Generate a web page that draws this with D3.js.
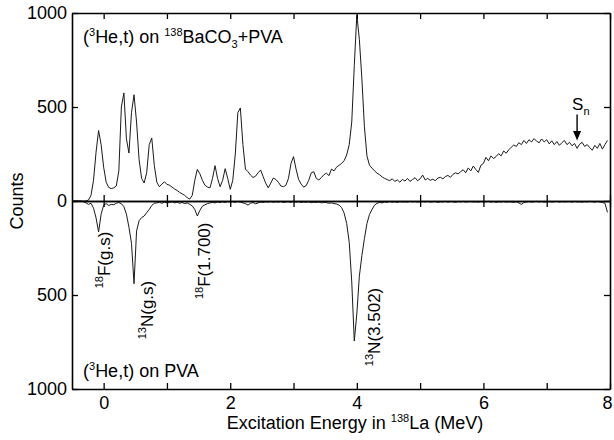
<!DOCTYPE html>
<html lang="en">
<head>
    <meta charset="UTF-8">
    <title>138La (3He,t) spectra</title>
    <script src="https://d3js.org/d3.v7.min.js"></script>
    <style>
        body {
            margin: 0;
            background-color: #fff;
        }
        svg {
            display: block;
            font-family: 'Liberation Sans', Arial, sans-serif;
        }
        .axis text {
            font-size: 18px;
            fill: #000;
        }
        .axis path, .axis line {
            stroke: #000;
        }
        .spectrum {
            fill: none;
            stroke: #1a1a1a;
            stroke-width: 1;
        }
        .label {
            font-size: 18px;
            fill: #000;
        }
        .peak-label {
            font-size: 17px;
            fill: #000;
        }
    </style>
</head>
<body>
    <svg width="614" height="440"></svg>

    <script>
        // histogram bins (MeV)
        const binStart = -0.48;
        const binWidth = 0.04;

        // (3He,t) on 138BaCO3+PVA, counts per bin
        const bacoCounts = [
            0, 0, 0, 0, 0, 0, 5, 30, 110, 260,
            375, 300, 180, 100, 72, 66, 70, 80, 160, 500,
            575, 330, 255, 470, 565, 420, 220, 120, 96, 150,
            300, 335, 190, 100, 76, 90, 102, 88, 84, 74,
            64, 56, 46, 38, 30, 18, 10, 30, 110, 168,
            145, 110, 84, 74, 70, 120, 188, 120, 76, 110,
            172, 120, 62, 110, 250, 470, 495, 300, 170, 156,
            138, 125, 132, 150, 165, 130, 95, 70, 95, 122,
            115, 100, 80, 76, 84, 120, 200, 236, 170, 115,
            90, 74, 82, 110, 150, 156, 120, 112, 125, 140,
            148, 135, 170, 160, 180, 190, 200, 215, 245, 300,
            420, 720, 990, 860, 650, 395, 240, 190, 175, 160,
            148, 140, 128, 120, 114, 108, 118, 104, 112, 100,
            115, 106, 120, 104, 114, 124, 108, 118, 138, 112,
            120, 110, 116, 108, 122, 126, 118, 130, 136, 126,
            142, 150, 144, 156, 166, 150, 176, 160, 186, 168,
            152, 190, 200, 232, 214, 240, 226, 236, 252, 240,
            266, 254, 272, 286, 298, 290, 310, 300, 322, 306,
            326, 314, 332, 318, 310, 330, 314, 326, 304, 320,
            300, 316, 296, 310, 322, 300, 312, 294, 306, 280,
            302, 312, 290, 300, 284, 270, 296, 280, 306, 276,
            300, 322
        ];

        // (3He,t) on PVA, counts per bin (drawn downward)
        const pvaCounts = [
            0, 0, 0, 0, 4, 10, 18, 12, 38, 90,
            165, 70, 22, 14, 24, 18, 20, 12, 8, 14,
            30, 70, 140, 225, 440, 160, 105, 88, 80, 62,
            45, 24, 12, 10, 7, 12, 6, 10, 8, 4,
            10, 6, 12, 8, 14, 10, 18, 26, 45, 80,
            50, 28, 20, 14, 10, 8, 10, 5, 8, 4,
            8, 3, 6, 4, 7, 3, 6, 10, 14, 22,
            12, 8, 15, 10, 5, 8, 4, 6, 3, 7,
            4, 6, 3, 8, 5, 4, 7, 3, 6, 4,
            8, 5, 7, 4, 9, 6, 8, 5, 10, 7,
            9, 12, 10, 14, 16, 22, 35, 65, 120, 220,
            430, 745, 600, 400, 290, 200, 120, 72, 45, 22,
            12, 8, 10, 5, 7, 3, 6, 4, 8, 3,
            5, 4, 6, 2, 5, 3, 6, 4, 3, 5,
            2, 6, 4, 3, 7, 4, 5, 2, 6, 3,
            4, 7, 3, 5, 2, 6, 4, 3, 5, 4,
            6, 3, 5, 4, 2, 6, 3, 7, 4, 5,
            3, 6, 4, 5, 7, 4, 10, 18, 8, 5,
            3, 6, 4, 2, 5, 3, 6, 4, 3, 5,
            4, 2, 6, 3, 5, 4, 3, 6, 2, 5,
            4, 6, 3, 5, 2, 4, 6, 3, 5, 8,
            12, 60
        ];

        const xTicks = [0, 1, 2, 3, 4, 5, 6, 7, 8];
        const yTicks = [-1000, -500, 0, 500, 1000];

        // contaminant peaks in the PVA run
        const peakLabels = [
            {iso: "18", name: "F(g.s)"},
            {iso: "13", name: "N(g.s)"},
            {iso: "18", name: "F(1.700)"},
            {iso: "13", name: "N(3.502)"}
        ];
        const snEnergy = 7.48;

        const svg = d3.select("svg");
        const margin = {top: 13, right: 4, bottom: 51, left: 72};
        const width = +svg.attr("width");
        const height = +svg.attr("height");

        const x = d3.scaleLinear([-0.5, 8], [margin.left, width - margin.right]);
        const y = d3.scaleLinear([-1000, 1000], [height - margin.bottom, margin.top]);

        const energy = i => binStart + i * binWidth;

        // spectra
        const line = d3.line()
            .x(d => x(d[0]))
            .y(d => y(d[1]));

        svg.append("path")
            .attr("class", "spectrum")
            .attr("d", line(bacoCounts.map((c, i) => [energy(i), c])));

        svg.append("path")
            .attr("class", "spectrum")
            .attr("d", line(pvaCounts.map((c, i) => [energy(i), -c])));

        // frame axes, ticks pointing inward
        svg.append("g")
            .attr("class", "axis")
            .attr("transform", `translate(0,${y(-1000)})`)
            .call(d3.axisBottom(x).tickValues(xTicks).tickSizeInner(-6).tickSizeOuter(0).tickPadding(7)
                .tickFormat(d => d % 2 === 0 ? d : ""))
            .selectAll(".tick text")
            .attr("dx", d => d === 8 ? -3 : 0);

        svg.append("g")
            .attr("class", "axis")
            .attr("transform", `translate(0,${y(1000)})`)
            .call(d3.axisTop(x).tickValues(xTicks).tickSizeInner(-6).tickSizeOuter(0).tickFormat(""));

        svg.append("g")
            .attr("class", "axis")
            .attr("transform", `translate(${x(-0.5)},0)`)
            .call(d3.axisLeft(y).tickValues(yTicks).tickSizeInner(-6).tickSizeOuter(0).tickPadding(5)
                .tickFormat(d => Math.abs(d)));

        svg.append("g")
            .attr("class", "axis")
            .attr("transform", `translate(${x(8)},0)`)
            .call(d3.axisRight(y).tickValues(yTicks).tickSizeInner(-6).tickSizeOuter(0).tickFormat(""));

        // zero line with ticks on both sides
        svg.append("g")
            .attr("class", "axis")
            .attr("transform", `translate(0,${y(0)})`)
            .call(d3.axisBottom(x).tickValues(xTicks).tickSizeInner(6).tickSizeOuter(0).tickFormat(""));
        svg.append("g")
            .attr("class", "axis")
            .attr("transform", `translate(0,${y(0)})`)
            .call(d3.axisTop(x).tickValues(xTicks).tickSizeInner(6).tickSizeOuter(0).tickFormat(""));

        svg.selectAll(".axis path").attr("stroke-width", 1.6);
        svg.selectAll(".axis line").attr("stroke-width", 1.3);

        // text with super/subscripts: parts = [[text, "sup"|"sub"|""], ...]
        function richText(g, parts, size) {
            const small = Math.round(size * 0.62);
            let shift = 0;
            parts.forEach(([t, mode]) => {
                const target = mode === "sup" ? -size * 0.4 : mode === "sub" ? size * 0.28 : 0;
                g.append("tspan")
                    .attr("dy", target - shift)
                    .attr("font-size", mode ? small : size)
                    .text(t);
                shift = target;
            });
            return g;
        }

        richText(svg.append("text").attr("class", "label").attr("x", 83).attr("y", 43),
            [["(", ""], ["3", "sup"], ["He,t) on ", ""], ["138", "sup"], ["BaCO", ""], ["3", "sub"], ["+PVA", ""]], 18);

        richText(svg.append("text").attr("class", "label").attr("x", 83).attr("y", 377),
            [["(", ""], ["3", "sup"], ["He,t) on PVA", ""]], 18);

        // rotated peak labels, placed in data units
        const labelSpots = [[0.10, -314], [0.78, -580], [1.68, -318], [4.37, -670]];
        peakLabels.forEach((p, i) => {
            const [e, c] = labelSpots[i];
            const t = svg.append("text")
                .attr("class", "peak-label")
                .attr("text-anchor", "middle")
                .attr("transform", `translate(${x(e)},${y(c)}) rotate(-90)`);
            richText(t, [[p.iso, "sup"], [p.name, ""]], 17);
        });

        // neutron separation energy marker
        const sx = x(snEnergy);
        richText(svg.append("text").attr("class", "label").attr("x", sx - 5).attr("y", y(485)),
            [["S", ""], ["n", "sub"]], 17);
        svg.append("line")
            .attr("x1", sx).attr("x2", sx)
            .attr("y1", y(460)).attr("y2", y(360))
            .attr("stroke", "#000").attr("stroke-width", 1.4);
        svg.append("path")
            .attr("d", `M${sx - 4},${y(372)} L${sx + 4},${y(372)} L${sx},${y(322)} Z`)
            .attr("fill", "#000");

        // axis titles
        richText(svg.append("text").attr("class", "label")
                .attr("text-anchor", "middle")
                .attr("transform", `translate(23,${y(0)}) rotate(-90)`),
            [["Counts", ""]], 18);

        richText(svg.append("text").attr("class", "label")
                .attr("text-anchor", "middle")
                .attr("x", 355).attr("y", 429),
            [["Excitation Energy in ", ""], ["138", "sup"], ["La (MeV)", ""]], 18);
    </script>
</body>
</html>
